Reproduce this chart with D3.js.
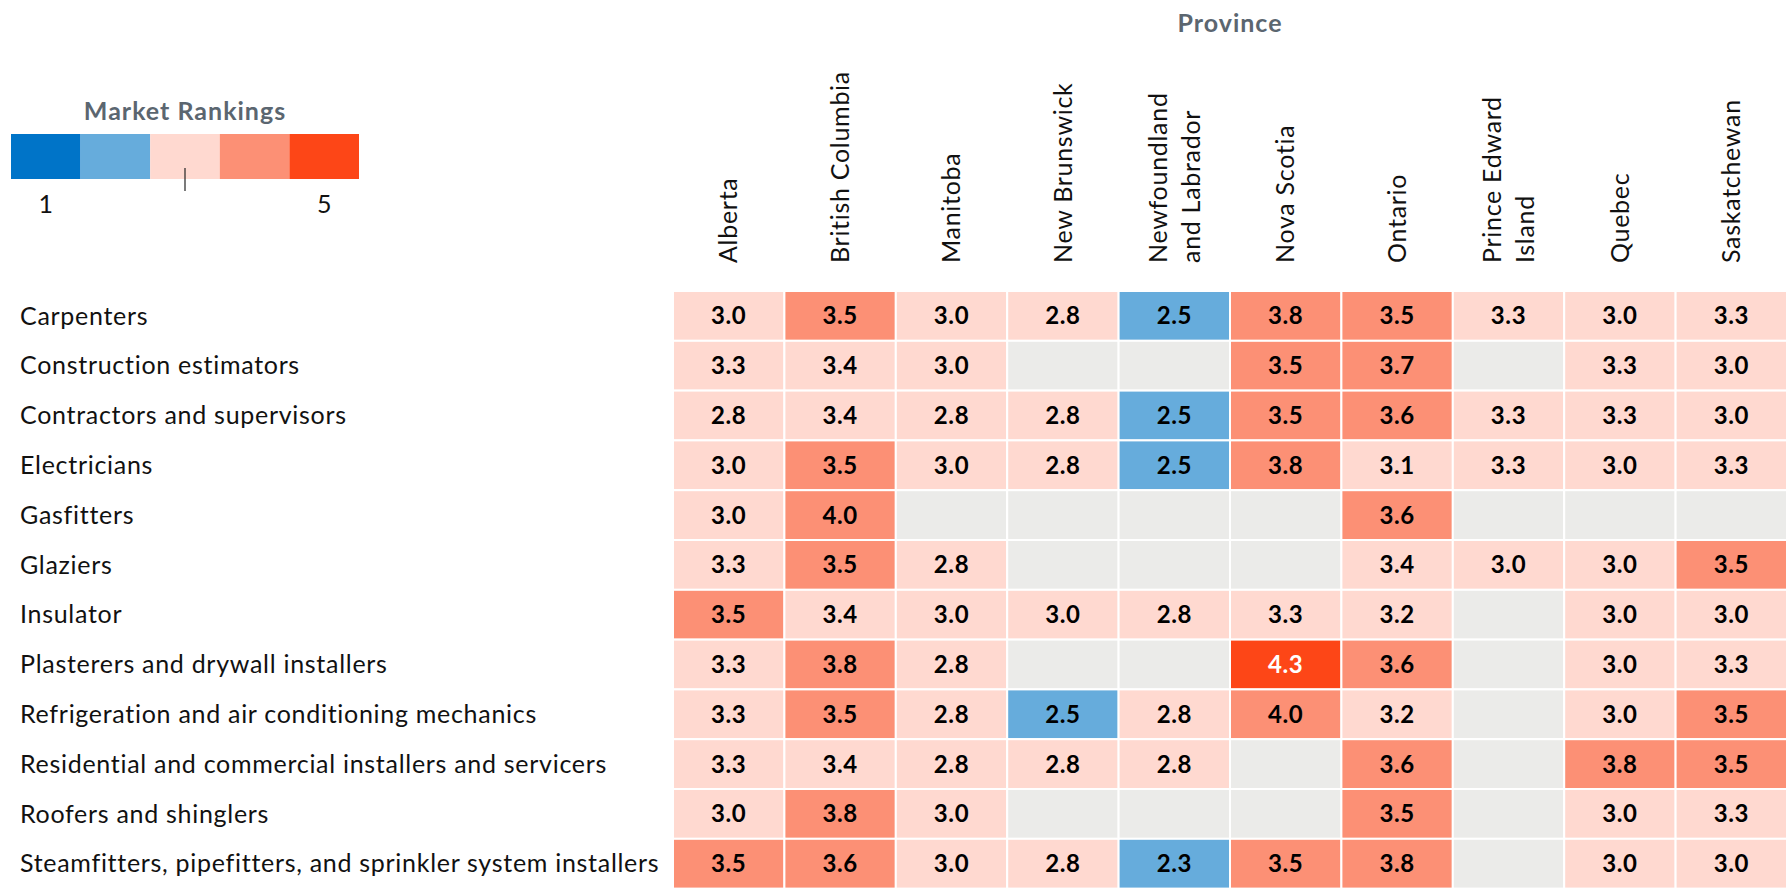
<!DOCTYPE html>
<html>
    <head>
        <meta charset="utf-8" />
        <script src="https://d3js.org/d3.v7.min.js"></script>
        <style>
            body { margin: 0; background: #fff; }
            svg { display: block; font-family: Lato, "Open Sans", sans-serif; }
            .rowlab { font-size: 25px; fill: #111; }
            .collab { font-size: 25px; fill: #111; }
            .val { font-size: 24px; font-weight: 700; letter-spacing: 0.6px; }
            .title { font-size: 25px; font-weight: 700; fill: #5b6670; letter-spacing: 1px; }
        </style>
    </head>
    <body>
        <svg id="chart" width="1787" height="888"></svg>
        <script>
            // provinces (columns) - "\n" splits the header into two lines
            let provinces = ["Alberta", "British Columbia", "Manitoba", "New Brunswick",
                "Newfoundland\nand Labrador", "Nova Scotia", "Ontario",
                "Prince Edward\nIsland", "Quebec", "Saskatchewan"]

            let occupations = [
                "Carpenters",
                "Construction estimators",
                "Contractors and supervisors",
                "Electricians",
                "Gasfitters",
                "Glaziers",
                "Insulator",
                "Plasterers and drywall installers",
                "Refrigeration and air conditioning mechanics",
                "Residential and commercial installers and servicers",
                "Roofers and shinglers",
                "Steamfitters, pipefitters, and sprinkler system installers"
            ]

            // one row per occupation, null = no data
            let carpenters     = [3.0, 3.5, 3.0, 2.8, 2.5, 3.8, 3.5, 3.3, 3.0, 3.3]
            let estimators     = [3.3, 3.4, 3.0, null, null, 3.5, 3.7, null, 3.3, 3.0]
            let contractors    = [2.8, 3.4, 2.8, 2.8, 2.5, 3.5, 3.6, 3.3, 3.3, 3.0]
            let electricians   = [3.0, 3.5, 3.0, 2.8, 2.5, 3.8, 3.1, 3.3, 3.0, 3.3]
            let gasfitters     = [3.0, 4.0, null, null, null, null, 3.6, null, null, null]
            let glaziers       = [3.3, 3.5, 2.8, null, null, null, 3.4, 3.0, 3.0, 3.5]
            let insulator      = [3.5, 3.4, 3.0, 3.0, 2.8, 3.3, 3.2, null, 3.0, 3.0]
            let plasterers     = [3.3, 3.8, 2.8, null, null, 4.3, 3.6, null, 3.0, 3.3]
            let refrigeration  = [3.3, 3.5, 2.8, 2.5, 2.8, 4.0, 3.2, null, 3.0, 3.5]
            let residential    = [3.3, 3.4, 2.8, 2.8, 2.8, null, 3.6, null, 3.8, 3.5]
            let roofers        = [3.0, 3.8, 3.0, null, null, null, 3.5, null, 3.0, 3.3]
            let steamfitters   = [3.5, 3.6, 3.0, 2.8, 2.3, 3.5, 3.8, null, 3.0, 3.0]

            let values = [carpenters, estimators, contractors, electricians, gasfitters, glaziers,
                insulator, plasterers, refrigeration, residential, roofers, steamfitters]

            let legendColors = ["#0074c8", "#66acdc", "#ffd9d0", "#fc9075", "#fd4617"]
            let legendTicks = ["1", "5"]

            let cells = []
            occupations.forEach((o, i) => {
                provinces.forEach((p, j) => cells.push({occ: o, prov: p, v: values[i][j]}))
            })

            let svg = d3.select("#chart")

            let x = d3.scaleBand().domain(provinces).range([673, 1787])
            let y = d3.scaleBand().domain(occupations).range([291, 291 + 12 * 49.8])
            let color = d3.scaleThreshold().domain([1.8, 2.6, 3.45, 4.2]).range(legendColors)

            // province title
            svg.append("text").attr("class", "title")
                .attr("x", (673 + 1787) / 2).attr("y", 22)
                .attr("text-anchor", "middle").attr("dominant-baseline", "central")
                .text("Province")

            // row labels
            let rows = svg.selectAll(".rowlab").data(occupations).enter()
                .append("text").attr("class", "rowlab")
                .attr("x", 20)
                .attr("y", d => y(d) + y.bandwidth() / 2)
                .attr("dy", "0.35em")
                .text(d => d)

            // the original face is wider than Lato, so open the spacing up a bit
            let longest = rows.filter((d, i) => i == occupations.length - 1).node()
            let w = longest.getComputedTextLength()
            let spacing = Math.max(0, (636 - w) / (occupations[occupations.length - 1].length - 1))
            rows.style("letter-spacing", spacing + "px")

            // column headers, rotated
            let hdr = svg.selectAll(".collab").data(provinces).enter()
                .append("text").attr("class", "collab")
                .attr("transform", d => `translate(${x(d) + x.bandwidth() / 2},263) rotate(-90)`)
                .attr("text-anchor", "start")
                .style("letter-spacing", spacing + "px")
            hdr.each(function(d) {
                let lines = d.split("\n")
                let n = lines.length
                d3.select(this).selectAll("tspan").data(lines).enter()
                    .append("tspan")
                    .attr("x", 0)
                    .attr("y", (l, k) => (k - (n - 1) / 2) * 33)
                    .attr("dy", "0.35em")
                    .text(l => l)
            })

            // cells
            svg.selectAll(".cell").data(cells).enter()
                .append("rect").attr("class", "cell")
                .attr("x", d => x(d.prov))
                .attr("y", d => y(d.occ))
                .attr("width", x.bandwidth())
                .attr("height", y.bandwidth())
                .attr("fill", d => d.v == null ? "#ebebe9" : color(d.v))
                .attr("stroke", "#fff")
                .attr("stroke-width", 2)

            svg.selectAll(".val").data(cells.filter(d => d.v != null)).enter()
                .append("text").attr("class", "val")
                .attr("x", d => x(d.prov) + x.bandwidth() / 2)
                .attr("y", d => y(d.occ) + y.bandwidth() / 2)
                .attr("dy", "0.35em")
                .attr("text-anchor", "middle")
                .attr("fill", d => d.v >= 4.2 ? "#fff" : "#000")
                .text(d => d.v.toFixed(1))

            // legend
            let lx = d3.scaleBand().domain(d3.range(5)).range([11, 359])
            let legend = svg.append("g")
            legend.append("text").attr("class", "title")
                .attr("x", 185).attr("y", 110)
                .attr("text-anchor", "middle").attr("dominant-baseline", "central")
                .text("Market Rankings")
            legend.selectAll("rect").data(legendColors).enter()
                .append("rect")
                .attr("x", (d, i) => lx(i)).attr("y", 134)
                .attr("width", lx.bandwidth()).attr("height", 45)
                .attr("fill", d => d)
            legend.append("line")
                .attr("x1", lx(2) + lx.bandwidth() / 2).attr("x2", lx(2) + lx.bandwidth() / 2)
                .attr("y1", 168).attr("y2", 191)
                .attr("stroke", "#222").attr("stroke-width", 1.2)
            legend.selectAll(".ltick").data(legendTicks).enter()
                .append("text").attr("class", "ltick")
                .attr("x", (d, i) => lx(i * 4) + lx.bandwidth() / 2)
                .attr("y", 204).attr("dy", "0.35em")
                .attr("text-anchor", "middle")
                .style("font-size", "25px").attr("fill", "#111")
                .text(d => d)
        </script>
    </body>
</html>
